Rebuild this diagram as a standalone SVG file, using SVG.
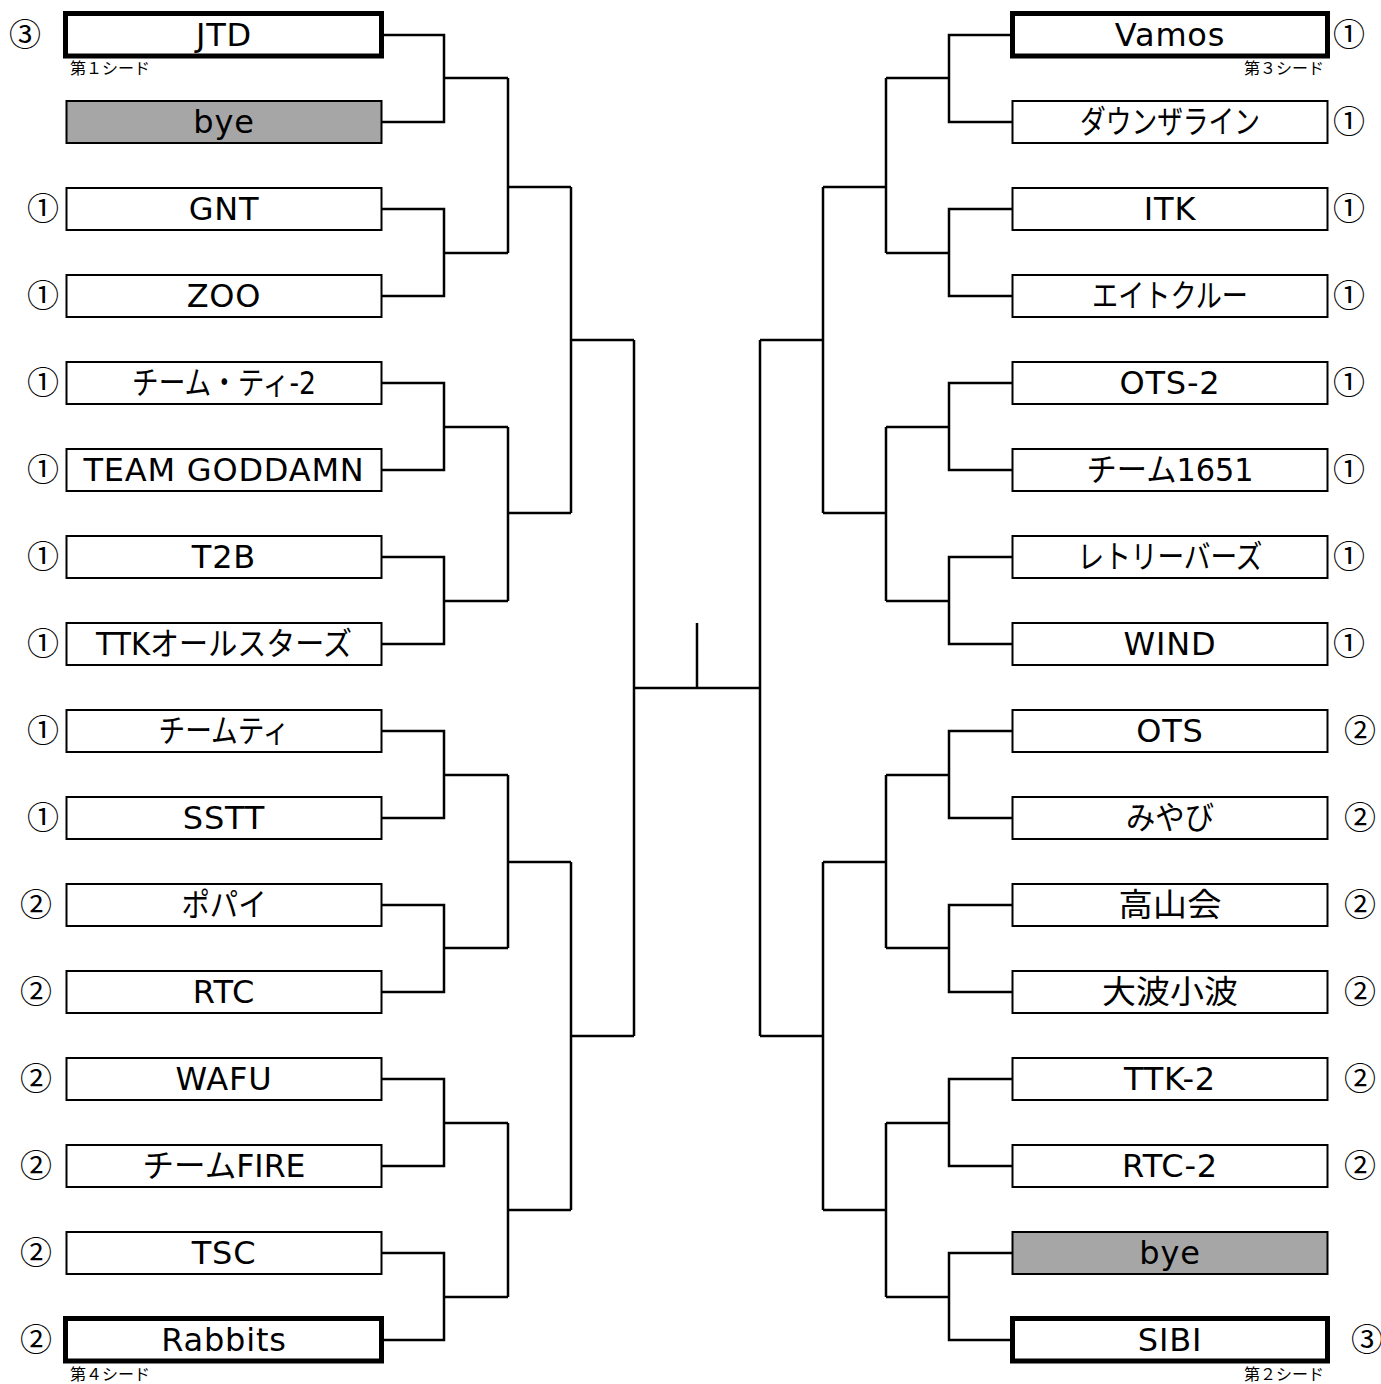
<svg xmlns="http://www.w3.org/2000/svg" width="1381" height="1384" viewBox="0 0 1381 1384">
<style>
.b{fill:#fff;stroke:#000;stroke-width:2}
.t{fill:#fff;stroke:#000;stroke-width:5}
.g{fill:#a6a6a6;stroke:#000;stroke-width:2}
.n{font-family:"DejaVu Sans","Noto Sans CJK JP",sans-serif;font-size:32px;letter-spacing:0.8px;text-anchor:middle;fill:#000}
.j{letter-spacing:0}
.c{font-family:"Noto Sans CJK JP",sans-serif;font-size:32px;text-anchor:middle;fill:#000}
.s{font-family:"Noto Sans CJK JP",sans-serif;font-size:16px;fill:#000}
.r{text-anchor:end}
#connectors path{fill:none;stroke:#000;stroke-width:2.5}
</style>
<g id="connectors">
<path d="M382 35H444V122H382M444 78H508M382 209H444V296H382M444 253H508M508 78V253M508 187H571"/>
<path d="M382 383H444V470H382M444 427H508M382 557H444V644H382M444 601H508M508 427V601M508 513H571M571 187V513M571 340H634"/>
<path d="M382 731H444V818H382M444 775H508M382 905H444V992H382M444 948H508M508 775V948M508 862H571"/>
<path d="M382 1079H444V1166H382M444 1123H508M382 1253H444V1340H382M444 1297H508M508 1123V1297M508 1210H571M571 862V1210M571 1036H634"/>
<path d="M634 340V1036M634 688H760M697 623V688"/>
<path d="M1012 35H949V122H1012M949 78H886M1012 209H949V296H1012M949 253H886M886 78V253M886 187H823"/>
<path d="M1012 383H949V470H1012M949 427H886M1012 557H949V644H1012M949 601H886M886 427V601M886 513H823M823 187V513M823 340H760"/>
<path d="M1012 731H949V818H1012M949 775H886M1012 905H949V992H1012M949 948H886M886 775V948M886 862H823"/>
<path d="M1012 1079H949V1166H1012M949 1123H886M1012 1253H949V1340H1012M949 1297H886M886 1123V1297M886 1210H823M823 862V1210M823 1036H760M760 340V1036"/>
</g>
<g id="L1"><rect class="t" x="65.5" y="13.5" width="316" height="42.5"/><text class="n" x="224" y="46">JTD</text><text class="c" x="25" y="46">③</text><text class="s" x="70" y="74">第１シード</text></g>
<g id="L2"><rect class="g" x="66.5" y="101" width="315" height="42"/><text class="n" x="224" y="133">bye</text></g>
<g id="L3"><rect class="b" x="66.5" y="188" width="315" height="42"/><text class="n" x="224" y="220">GNT</text><text class="c" x="43" y="220">①</text></g>
<g id="L4"><rect class="b" x="66.5" y="275" width="315" height="42"/><text class="n" x="224" y="307">ZOO</text><text class="c" x="43" y="307">①</text></g>
<g id="L5"><rect class="b" x="66.5" y="362" width="315" height="42"/><text class="n j" x="224" y="394" textLength="184" lengthAdjust="spacingAndGlyphs">チーム・ティ-2</text><text class="c" x="43" y="394">①</text></g>
<g id="L6"><rect class="b" x="66.5" y="449" width="315" height="42"/><text class="n" x="224" y="481">TEAM GODDAMN</text><text class="c" x="43" y="481">①</text></g>
<g id="L7"><rect class="b" x="66.5" y="536" width="315" height="42"/><text class="n" x="224" y="568">T2B</text><text class="c" x="43" y="568">①</text></g>
<g id="L8"><rect class="b" x="66.5" y="623" width="315" height="42"/><text class="n j" x="224" y="655" textLength="256" lengthAdjust="spacingAndGlyphs">TTKオールスターズ</text><text class="c" x="43" y="655">①</text></g>
<g id="L9"><rect class="b" x="66.5" y="710" width="315" height="42"/><text class="n j" x="224" y="742" textLength="131" lengthAdjust="spacingAndGlyphs">チームティ</text><text class="c" x="43" y="742">①</text></g>
<g id="L10"><rect class="b" x="66.5" y="797" width="315" height="42"/><text class="n" x="224" y="829">SSTT</text><text class="c" x="43" y="829">①</text></g>
<g id="L11"><rect class="b" x="66.5" y="884" width="315" height="42"/><text class="n j" x="224" y="916" textLength="85" lengthAdjust="spacingAndGlyphs">ポパイ</text><text class="c" x="36" y="916">②</text></g>
<g id="L12"><rect class="b" x="66.5" y="971" width="315" height="42"/><text class="n" x="224" y="1003">RTC</text><text class="c" x="36" y="1003">②</text></g>
<g id="L13"><rect class="b" x="66.5" y="1058" width="315" height="42"/><text class="n" x="224" y="1090">WAFU</text><text class="c" x="36" y="1090">②</text></g>
<g id="L14"><rect class="b" x="66.5" y="1145" width="315" height="42"/><text class="n j" x="224" y="1177" textLength="163" lengthAdjust="spacingAndGlyphs">チームFIRE</text><text class="c" x="36" y="1177">②</text></g>
<g id="L15"><rect class="b" x="66.5" y="1232" width="315" height="42"/><text class="n" x="224" y="1264">TSC</text><text class="c" x="36" y="1264">②</text></g>
<g id="L16"><rect class="t" x="65.5" y="1318.5" width="316" height="42.5"/><text class="n" x="224" y="1351">Rabbits</text><text class="c" x="36" y="1351">②</text><text class="s" x="70" y="1380">第４シード</text></g>
<g id="R1"><rect class="t" x="1012.5" y="13.5" width="315" height="42.5"/><text class="n" x="1170" y="46">Vamos</text><text class="c" x="1349" y="46">①</text><text class="s r" x="1324" y="74">第３シード</text></g>
<g id="R2"><rect class="b" x="1012.5" y="101" width="315" height="42"/><text class="n j" x="1170" y="133" textLength="180" lengthAdjust="spacingAndGlyphs">ダウンザライン</text><text class="c" x="1349" y="133">①</text></g>
<g id="R3"><rect class="b" x="1012.5" y="188" width="315" height="42"/><text class="n" x="1170" y="220">ITK</text><text class="c" x="1349" y="220">①</text></g>
<g id="R4"><rect class="b" x="1012.5" y="275" width="315" height="42"/><text class="n j" x="1170" y="307" textLength="156" lengthAdjust="spacingAndGlyphs">エイトクルー</text><text class="c" x="1349" y="307">①</text></g>
<g id="R5"><rect class="b" x="1012.5" y="362" width="315" height="42"/><text class="n" x="1170" y="394">OTS-2</text><text class="c" x="1349" y="394">①</text></g>
<g id="R6"><rect class="b" x="1012.5" y="449" width="315" height="42"/><text class="n j" x="1170" y="481" textLength="167" lengthAdjust="spacingAndGlyphs">チーム1651</text><text class="c" x="1349" y="481">①</text></g>
<g id="R7"><rect class="b" x="1012.5" y="536" width="315" height="42"/><text class="n j" x="1170" y="568" textLength="185" lengthAdjust="spacingAndGlyphs">レトリーバーズ</text><text class="c" x="1349" y="568">①</text></g>
<g id="R8"><rect class="b" x="1012.5" y="623" width="315" height="42"/><text class="n" x="1170" y="655">WIND</text><text class="c" x="1349" y="655">①</text></g>
<g id="R9"><rect class="b" x="1012.5" y="710" width="315" height="42"/><text class="n" x="1170" y="742">OTS</text><text class="c" x="1360" y="742">②</text></g>
<g id="R10"><rect class="b" x="1012.5" y="797" width="315" height="42"/><text class="n j" x="1170" y="829" textLength="88" lengthAdjust="spacingAndGlyphs">みやび</text><text class="c" x="1360" y="829">②</text></g>
<g id="R11"><rect class="b" x="1012.5" y="884" width="315" height="42"/><text class="n j" x="1170" y="916" textLength="103" lengthAdjust="spacingAndGlyphs">高山会</text><text class="c" x="1360" y="916">②</text></g>
<g id="R12"><rect class="b" x="1012.5" y="971" width="315" height="42"/><text class="n j" x="1170" y="1003" textLength="136" lengthAdjust="spacingAndGlyphs">大波小波</text><text class="c" x="1360" y="1003">②</text></g>
<g id="R13"><rect class="b" x="1012.5" y="1058" width="315" height="42"/><text class="n" x="1170" y="1090">TTK-2</text><text class="c" x="1360" y="1090">②</text></g>
<g id="R14"><rect class="b" x="1012.5" y="1145" width="315" height="42"/><text class="n" x="1170" y="1177">RTC-2</text><text class="c" x="1360" y="1177">②</text></g>
<g id="R15"><rect class="g" x="1012.5" y="1232" width="315" height="42"/><text class="n" x="1170" y="1264">bye</text></g>
<g id="R16"><rect class="t" x="1012.5" y="1318.5" width="315" height="42.5"/><text class="n" x="1170" y="1351">SIBI</text><text class="c" x="1367" y="1351">③</text><text class="s r" x="1324" y="1380">第２シード</text></g>
</svg>
